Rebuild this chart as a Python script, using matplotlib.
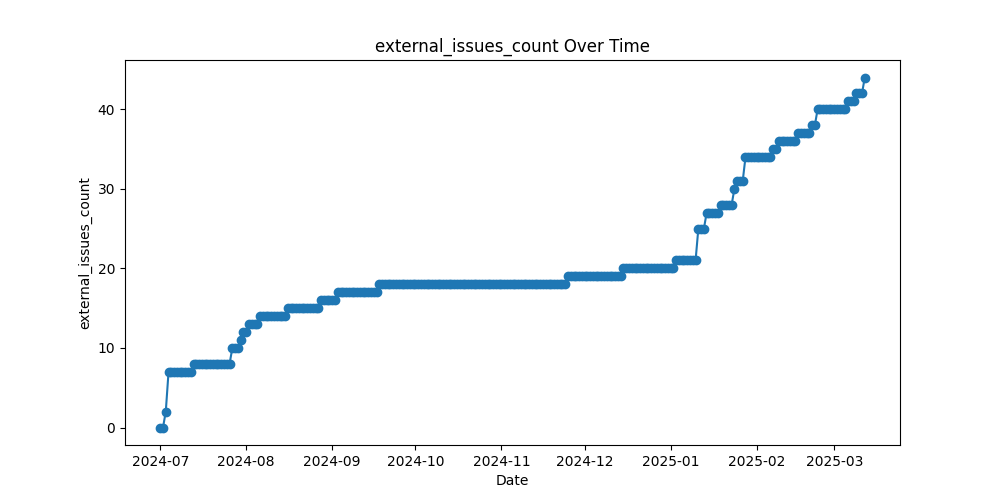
import numpy as np
import pandas as pd
import matplotlib
matplotlib.use("Agg")
import matplotlib.pyplot as plt

# dates where the count changes, and the count from that day on
change_dates = ["2024-07-01", "2024-07-03", "2024-07-04", "2024-07-13", "2024-07-27",
                "2024-07-30", "2024-07-31", "2024-08-02", "2024-08-06", "2024-08-16",
                "2024-08-28", "2024-09-03", "2024-09-18", "2024-11-25", "2024-12-15",
                "2025-01-03", "2025-01-11", "2025-01-14", "2025-01-19", "2025-01-24",
                "2025-01-25", "2025-01-28", "2025-02-07", "2025-02-09", "2025-02-16",
                "2025-02-21", "2025-02-23", "2025-03-06", "2025-03-09", "2025-03-12"]
levels = [0, 2, 7, 8, 10, 11, 12, 13, 14, 15,
          16, 17, 18, 19, 20, 21, 25, 27, 28, 30,
          31, 34, 35, 36, 37, 38, 40, 41, 42, 44]
last_date = "2025-03-12"

# one observation per day, holding the last recorded count
steps = pd.Series(levels, index=pd.to_datetime(change_dates))
days = pd.date_range(change_dates[0], last_date, freq="D")
counts = steps.reindex(days, method="ffill")

plt.figure(figsize=(10, 5), dpi=100)
plt.plot(counts.index, counts.values, marker="o")
plt.title("external_issues_count Over Time")
plt.xlabel("Date")
plt.ylabel("external_issues_count")
plt.savefig("out.png")
